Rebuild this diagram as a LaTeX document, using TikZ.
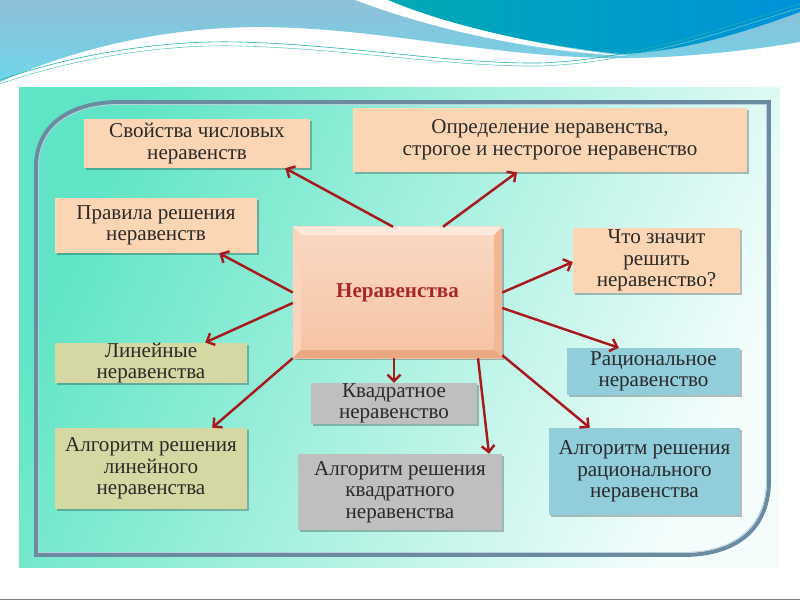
\documentclass[tikz,border=0pt]{standalone}
\usepackage{fontspec}
\setmainfont{Liberation Serif}
\usetikzlibrary{arrows.meta,shadows,calc}
\definecolor{peach}{HTML}{FCD5B4}
\definecolor{olivebox}{HTML}{D5D8A2}
\definecolor{graybox}{HTML}{BFBFBF}
\definecolor{aquabox}{HTML}{92CDDC}
\definecolor{arrowred}{HTML}{A8181C}
\definecolor{txt}{HTML}{2A2A2A}
\definecolor{framecol}{HTML}{6A8BA2}
\definecolor{framelight}{HTML}{B9CFDC}
\definecolor{mint}{HTML}{5FE5C5}
\definecolor{panelend}{HTML}{F4FDFC}
\definecolor{wavelight}{HTML}{8DBFD8}
\definecolor{wavecyan}{HTML}{70D6EA}
\definecolor{waveteal}{HTML}{00AAB4}
\definecolor{waveblue}{HTML}{0092DA}
\definecolor{waveline}{HTML}{22B2A8}
\definecolor{cface1}{HTML}{FAD9C4}
\definecolor{cface2}{HTML}{F6C3A3}
\definecolor{cbevlight}{HTML}{FDE9DD}
\definecolor{cbevside}{HTML}{F9D4BE}
\definecolor{cbevdark}{HTML}{E9A883}
\definecolor{cbevright}{HTML}{F1B893}
\definecolor{ctext}{HTML}{A8282A}
\tikzset{
  box/.style={rectangle, draw=none, fill=#1, text=txt, align=center, inner sep=0pt,
    font=\fontsize{18}{18.5}\selectfont,
    drop shadow={shadow xshift=0.06cm, shadow yshift=-0.06cm, opacity=0.25, fill=black}},
  cbox/.style={rectangle, draw=none, top color=cface1, bottom color=cface2, text=ctext,
    align=center, inner sep=0pt, font=\fontsize{18}{19}\selectfont\bfseries,
    drop shadow={shadow xshift=0.07cm, shadow yshift=-0.07cm, opacity=0.25, fill=black}},
  arr/.style={draw=arrowred, line width=2.1pt,
    -{Straight Barb[length=5.5pt,width=11pt,line width=2.1pt]}},
}
\begin{document}
\begin{tikzpicture}[x=0.03cm, y=-0.03cm]
\useasboundingbox (0,0) rectangle (800,600);
\fill[white] (0,0) rectangle (800,600);
% top waves
\shade[top color=wavelight, bottom color=wavecyan]
  (0,0) -- (800,0) -- (800,42)
  .. controls (740,52) and (670,59) .. (605,58)
  .. controls (480,55) and (380,28) .. (262,27)
  .. controls (150,27) and (60,55) .. (0,82) -- cycle;
\fill[white] (355,0) .. controls (440,32) and (540,52) .. (628,56)
  .. controls (540,47) and (450,25) .. (392,0) -- cycle;
\shade[left color=waveteal, right color=waveblue]
  (388,0) -- (800,0) -- (800,12)
  .. controls (740,34) and (680,52) .. (622,54)
  .. controls (540,46) and (450,26) .. (388,0) -- cycle;
\draw[waveline, line width=0.5pt] (0,80) .. controls (80,52) and (170,40) .. (240,42)
  .. controls (350,45) and (450,64) .. (540,63) .. controls (640,60) and (740,22) .. (800,4);
\draw[waveline!70, line width=0.5pt] (0,84) .. controls (80,56) and (170,44) .. (240,46)
  .. controls (350,49) and (450,67) .. (540,66) .. controls (640,63) and (740,26) .. (800,8);
% panel
\shade[top color=mint, bottom color=panelend, shading angle=65] (19,88) rectangle (780,568);
% frame
\draw[framecol, line width=3.4pt]
  (120,102) -- (769,102) -- (769,480)
  .. controls (769,530) and (735,555) .. (683,555)
  -- (36,555) -- (36,167)
  .. controls (36,125) and (70,102) .. (120,102) -- cycle;
\draw[framelight, line width=0.8pt]
  (120,104.5) -- (766.5,104.5) -- (766.5,480)
  .. controls (766.5,528) and (733,552.5) .. (683,552.5)
  -- (38.5,552.5) -- (38.5,167)
  .. controls (38.5,127) and (72,104.5) .. (120,104.5);
% boxes
\node[box=peach, minimum width=6.78cm, minimum height=1.47cm] (s1) at (197,143.5) {Свойства числовых\\неравенств};
\node[box=peach, minimum width=6.06cm, minimum height=1.65cm] (s2) at (156,225.5) {Правила решения\\неравенств};
\node[box=peach, minimum width=11.82cm, minimum height=1.92cm] (s3) at (550,140) {Определение неравенства,\\строгое и нестрогое неравенство};
\node[box=peach, minimum width=5.01cm, minimum height=1.95cm] (s4) at (656.5,260.5) {Что значит\\решить\\неравенство?};
\node[box=graybox, minimum width=4.98cm, minimum height=1.23cm] (s6) at (394,403.5) {Квадратное\\неравенство};
\node[box=graybox, minimum width=6.12cm, minimum height=2.28cm] (s7) at (400,492) {Алгоритм решения\\квадратного\\неравенства};
\node[box=olivebox, minimum width=5.76cm, minimum height=1.2cm] (s8) at (151,363) {Линейные\\неравенства};
\node[box=olivebox, minimum width=5.76cm, minimum height=2.43cm] (s9) at (151,468.5) {Алгоритм решения\\линейного\\неравенства};
\node[box=aquabox, minimum width=5.19cm, minimum height=1.41cm] (s10) at (653.5,371.5) {Рациональное\\неравенство};
\node[box=aquabox, minimum width=5.73cm, minimum height=2.61cm] (s11) at (644.5,471.5) {Алгоритм решения\\рационального\\неравенства};
% centre
\node[cbox, minimum width=6.27cm, minimum height=3.93cm] (c) at (397.5,292.5) {Неравенства};
\fill[cbevlight] (c.north west) -- (c.north east) -- ($(c.north east)+(-8,8)$) -- ($(c.north west)+(8,8)$) -- cycle;
\fill[cbevside] (c.north west) -- ($(c.north west)+(8,8)$) -- ($(c.south west)+(8,-8)$) -- (c.south west) -- cycle;
\fill[cbevright] (c.north east) -- ($(c.north east)+(-8,8)$) -- ($(c.south east)+(-8,-8)$) -- (c.south east) -- cycle;
\fill[cbevdark] (c.south west) -- ($(c.south west)+(8,-8)$) -- ($(c.south east)+(-8,-8)$) -- (c.south east) -- cycle;
% arrows
\draw[arr] ($(c.north)+(-4.5,0)$) -- ($(s1.south east)+(-25,0)$);
\draw[arr] ($(c.north)+(45.5,0)$) -- ($(s3.south)+(-33,0)$);
\draw[arr] (c.west) -- ($(s2.south east)+(-38,0)$);
\draw[arr] ($(c.west)+(0,10.5)$) -- ($(s8.north east)+(-42,0)$);
\draw[arr] (c.south west) -- ($(s9.north east)+(-35,0)$);
\draw[arr] ($(c.south)+(-3.5,0)$) -- ($(s6.north)+(0,0)$);
\draw[arr] ($(c.south)+(80.5,0)$) -- ($(s7.north)+(89,0)$);
\draw[arr] (c.east) -- ($(s4.west)+(0,1.5)$);
\draw[arr] ($(c.east)+(0,15.5)$) -- ($(s10.north west)+(52,0)$);
\draw[arr] ($(c.south east)+(0,-3)$) -- ($(s11.north west)+(41,0)$);
% bottom edge
\draw[gray, line width=1.2pt] (0,599.3) -- (800,599.3);
\end{tikzpicture}
\end{document}
